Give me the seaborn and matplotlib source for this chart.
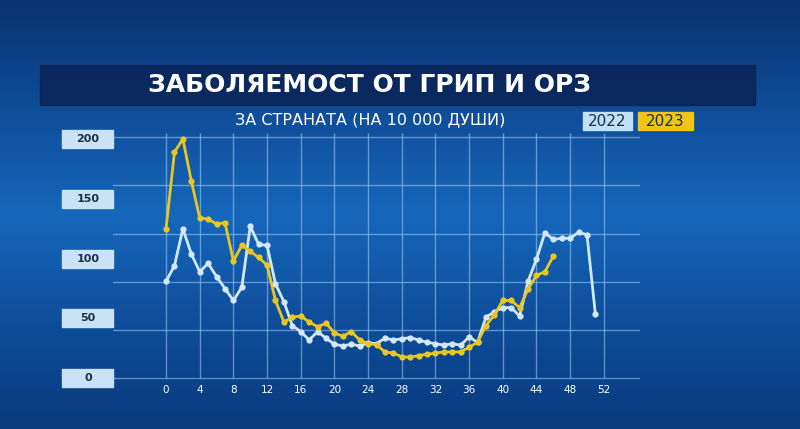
import numpy as np
import pandas as pd
import matplotlib
matplotlib.use("Agg")
import matplotlib.pyplot as plt
import seaborn as sns
from matplotlib.colors import LinearSegmentedColormap
from matplotlib.patches import Rectangle

weeks_2022 = list(range(0, 52))
values_2022 = [81, 94, 125, 104, 89, 96, 85, 75, 65, 76, 127, 112, 111, 79, 64, 44, 39, 32, 39, 33.5,
               28.5, 27, 28.5, 27, 29.5, 29, 33.5, 32, 33, 34, 32, 30, 29, 27.6, 29, 27.6,
               34.6, 30, 51, 55.5, 59, 59, 52, 81, 99.5, 121.6, 116, 117, 117, 122, 120, 53.6]
weeks_2023 = list(range(0, 47))
values_2023 = [125, 189, 200, 165, 134, 133, 129, 130, 98, 111, 106, 101, 94.5, 65, 47, 51, 52, 47, 43, 46,
               38, 35, 39, 32, 29, 28, 22, 21, 18, 17.5, 19, 20, 21, 22, 22, 22, 26, 30, 44, 53,
               65, 65, 59, 74.5, 86, 89, 102]
y_ticks = [0, 50, 100, 150, 200]
x_ticks = list(range(0, 53, 4))

df = pd.concat([
    pd.DataFrame({"week": weeks_2022, "value": values_2022, "year": "2022"}),
    pd.DataFrame({"week": weeks_2023, "value": values_2023, "year": "2023"}),
])

W, H = 800, 429
fig = plt.figure(figsize=(8, 4.29), dpi=100)
bg = fig.add_axes([0, 0, 1, 1])
cmap = LinearSegmentedColormap.from_list("bg", ["#0a3270", "#0f4c98", "#1667bb", "#0e4d9a", "#0a3a7e"])
grad = np.linspace(0, 1, 256).reshape(-1, 1)
bg.imshow(grad, aspect="auto", cmap=cmap, extent=[0, 1, 0, 1], origin="upper")
bg.set_xlim(0, 1); bg.set_ylim(0, 1); bg.axis("off")

def box(x0, y0, x1, y1, **kw):
    bg.add_patch(Rectangle((x0/W, 1-y1/H), (x1-x0)/W, (y1-y0)/H, **kw))

box(40, 65, 755, 105, color="#0a2456", alpha=0.85)
bg.text(370/W, 1-85/H, "ЗАБОЛЯЕМОСТ ОТ ГРИП И ОРЗ", color="white", fontsize=18,
        fontweight="bold", ha="center", va="center")
bg.text(370/W, 1-120/H, "ЗА СТРАНАТА (НА 10 000 ДУШИ)", color="white", fontsize=11.5,
        ha="center", va="center")
box(583, 112, 632, 130, color="#bfe0f5")
box(638, 112, 693, 130, color="#f0c419")
bg.text(607/W, 1-121/H, "2022", color="#1c2f4a", fontsize=11, ha="center", va="center")
bg.text(665/W, 1-121/H, "2023", color="#1c2f4a", fontsize=11, ha="center", va="center")

ax = fig.add_axes([113/W, 34/H, 527/W, 270/H])
ax.set_facecolor("none")
ax.set_xlim(-6.3, 56.3)
ax.set_ylim(-14, 211.7)
for s in ax.spines.values():
    s.set_visible(False)
for g in np.arange(0, 205, 40.3):
    ax.axhline(g, color="#a9cdf0", lw=1, alpha=0.55, zorder=1)
ax.vlines(x_ticks, 0, 205, color="#a9cdf0", lw=1, alpha=0.55, zorder=1)
for t in x_ticks:
    ax.text(t, -10, str(t), color="white", fontsize=7.5, ha="center", va="center")
for v in y_ticks:
    yp = 378 - v * 1.195
    box(62, yp - 9, 113, yp + 9, color="#c9e2f5")
    bg.text(88/W, 1-yp/H, str(v), color="#1c2f4a", fontsize=8, ha="center", va="center",
            fontweight="bold")

sns.lineplot(data=df, x="week", y="value", hue="year", palette={"2022": "#d2e8f8", "2023": "#e9c620"},
             marker="o", markersize=4.5, markeredgewidth=0, linewidth=2, ax=ax, legend=False, zorder=3)
ax.set_xlabel(""); ax.set_ylabel("")
ax.set_xticks([]); ax.set_yticks([])

fig.savefig("out.png", dpi=100)
